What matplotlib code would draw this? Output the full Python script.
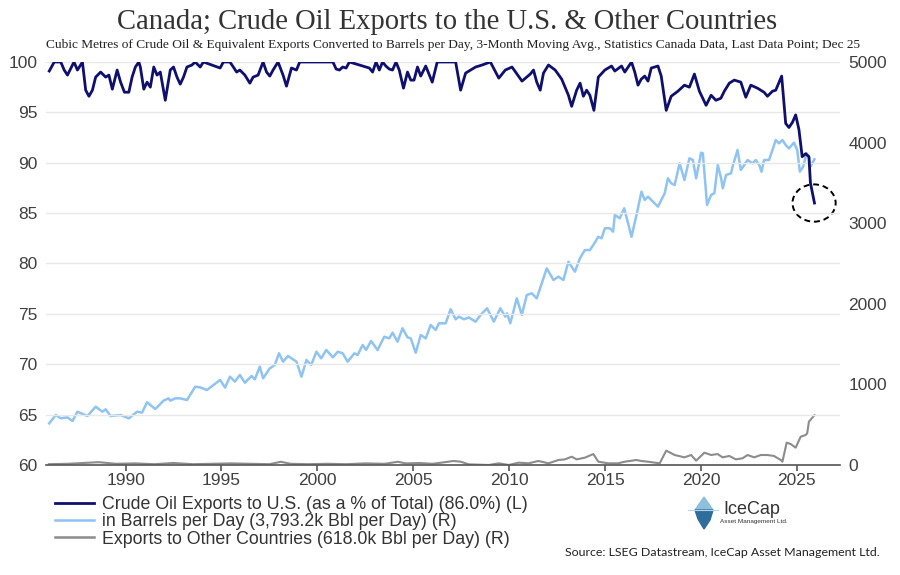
import numpy as np
import matplotlib.pyplot as plt
from matplotlib.patches import Ellipse, Polygon
from matplotlib.lines import Line2D

# --- data (decimal years) ---
us_share_years = [
    1986.02, 1986.28, 1986.62, 1986.80, 1986.97, 1987.31, 1987.49, 1987.75, 1987.92, 1988.09,
    1988.27, 1988.44, 1988.70, 1988.96, 1989.13, 1989.31, 1989.56, 1989.74, 1989.94, 1990.17,
    1990.34, 1990.51, 1990.69, 1990.77, 1990.95, 1991.12, 1991.29, 1991.47, 1991.64, 1991.81,
    1992.07, 1992.33, 1992.50, 1992.68, 1992.85, 1993.02, 1993.20, 1993.46, 1993.63, 1993.89,
    1994.06, 1994.93, 1995.10, 1995.44, 1995.62, 1995.79, 1995.96, 1996.22, 1996.48, 1996.65,
    1996.91, 1997.17, 1997.35, 1997.52, 1997.69, 1997.95, 1998.21, 1998.39, 1998.65, 1998.91,
    1999.08, 2000.81, 2000.98, 2001.15, 2001.32, 2001.50, 2001.67, 2002.71, 2002.88, 2003.06,
    2003.23, 2003.40, 2003.57, 2003.75, 2003.92, 2004.10, 2004.27, 2004.49, 2004.70, 2004.87,
    2005.04, 2005.22, 2005.39, 2005.65, 2005.82, 2005.99, 2006.25, 2006.86, 2007.21, 2007.47,
    2007.73, 2008.25, 2008.59, 2009.02, 2009.46, 2009.80, 2010.15, 2010.67, 2011.10, 2011.27,
    2011.44, 2011.62, 2011.79, 2012.05, 2012.40, 2012.74, 2013.09, 2013.26, 2013.52, 2013.70,
    2013.87, 2014.04, 2014.21, 2014.42, 2014.65, 2014.99, 2015.34, 2015.51, 2015.86, 2016.03,
    2016.38, 2016.55, 2016.72, 2016.89, 2017.07, 2017.24, 2017.41, 2017.76, 2017.93, 2018.19,
    2018.45, 2018.80, 2019.14, 2019.40, 2019.66, 2019.92, 2020.27, 2020.53, 2020.78, 2021.04,
    2021.22, 2021.48, 2021.74, 2022.08, 2022.34, 2022.60, 2022.95, 2023.29, 2023.47, 2023.73,
    2023.90, 2024.21, 2024.42, 2024.59, 2024.77, 2024.94, 2025.11, 2025.28, 2025.46, 2025.63,
    2025.71, 2025.92,
]
us_share_pct = [
    99.1, 100.0, 100.0, 99.2, 98.7, 100.0, 99.2, 100.0, 97.2, 96.6,
    97.2, 98.5, 99.0, 98.5, 98.7, 97.3, 99.2, 98.0, 97.0, 97.0,
    98.5, 99.5, 100.0, 99.5, 97.3, 98.0, 97.5, 99.5, 98.7, 99.0,
    96.2, 99.2, 99.5, 98.5, 97.8, 98.5, 99.5, 99.7, 100.0, 99.5,
    100.0, 99.4, 100.0, 100.0, 99.5, 99.0, 99.2, 98.7, 97.9, 98.5,
    98.7, 100.0, 99.0, 98.6, 99.2, 100.0, 98.7, 97.6, 99.4, 99.2,
    100.0, 100.0, 99.3, 99.2, 99.5, 99.4, 100.0, 99.4, 99.0, 100.0,
    99.2, 100.0, 99.6, 99.3, 99.2, 100.0, 99.2, 97.4, 99.0, 98.2,
    98.2, 99.5, 98.6, 99.6, 98.8, 98.0, 100.0, 100.0, 100.0, 97.2,
    98.9, 99.5, 99.7, 100.0, 98.4, 99.2, 99.5, 98.1, 98.8, 99.2,
    98.0, 97.2, 98.9, 99.7, 99.2, 98.3, 96.7, 95.6, 97.2, 97.9,
    96.6, 97.2, 96.7, 95.2, 98.5, 99.2, 99.6, 99.1, 99.6, 99.0,
    100.0, 99.0, 97.7, 98.3, 98.6, 98.1, 99.4, 99.6, 98.6, 95.2,
    96.6, 97.1, 97.7, 97.5, 98.8, 97.1, 95.7, 96.7, 96.2, 96.4,
    97.1, 97.9, 98.2, 98.0, 96.5, 97.7, 97.4, 97.0, 96.6, 97.1,
    97.2, 98.6, 93.9, 93.5, 94.0, 94.75, 93.3, 90.6, 90.9, 90.6,
    88.0, 86.0,
]

us_bpd_years = [
    1986.02, 1986.36, 1986.62, 1986.97, 1987.23, 1987.49, 1988.01, 1988.44, 1988.79, 1988.96,
    1989.22, 1989.74, 1990.17, 1990.60, 1990.86, 1991.12, 1991.55, 1991.98, 1992.24, 1992.33,
    1992.59, 1992.85, 1993.20, 1993.63, 1993.89, 1994.24, 1994.58, 1994.93, 1995.19, 1995.44,
    1995.70, 1995.96, 1996.22, 1996.57, 1996.74, 1997.00, 1997.17, 1997.52, 1997.78, 1998.00,
    1998.21, 1998.47, 1998.91, 1999.17, 1999.43, 1999.68, 1999.95, 2000.20, 2000.46, 2000.81,
    2001.07, 2001.32, 2001.58, 2001.93, 2002.10, 2002.36, 2002.54, 2002.80, 2003.14, 2003.49,
    2003.75, 2003.92, 2004.18, 2004.44, 2004.70, 2004.87, 2005.13, 2005.39, 2005.65, 2005.91,
    2006.17, 2006.34, 2006.69, 2006.95, 2007.21, 2007.38, 2007.64, 2007.90, 2008.25, 2008.51,
    2008.85, 2009.20, 2009.54, 2009.80, 2009.89, 2010.06, 2010.40, 2010.66, 2010.92, 2011.18,
    2011.44, 2011.70, 2011.96, 2012.31, 2012.57, 2012.83, 2013.09, 2013.43, 2013.69, 2013.95,
    2014.21, 2014.39, 2014.65, 2014.82, 2014.99, 2015.25, 2015.42, 2015.51, 2015.77, 2016.00,
    2016.20, 2016.38, 2016.64, 2016.90, 2017.07, 2017.24, 2017.50, 2017.76, 2018.11, 2018.28,
    2018.45, 2018.63, 2018.89, 2019.14, 2019.40, 2019.58, 2019.75, 2020.01, 2020.10, 2020.32,
    2020.53, 2020.70, 2020.88, 2021.05, 2021.14, 2021.31, 2021.57, 2021.65, 2021.91, 2022.08,
    2022.26, 2022.43, 2022.69, 2022.86, 2023.04, 2023.16, 2023.29, 2023.55, 2023.73, 2023.90,
    2024.07, 2024.25, 2024.42, 2024.59, 2024.85, 2025.02, 2025.16, 2025.33, 2025.51, 2025.63,
    2025.71, 2025.92,
]
us_bpd = [
    517, 620, 580, 591, 546, 661, 608, 723, 661, 691,
    608, 620, 579, 661, 650, 778, 695, 798, 827, 798,
    827, 827, 806, 971, 963, 930, 992, 1055, 960, 1096,
    1034, 1117, 1021, 1104, 1063, 1220, 1075, 1199, 1241, 1386,
    1282, 1352, 1282, 1096, 1303, 1241, 1406, 1323, 1427, 1336,
    1406, 1386, 1282, 1386, 1365, 1489, 1427, 1538, 1427, 1592,
    1571, 1642, 1530, 1696, 1584, 1571, 1393, 1613, 1571, 1737,
    1675, 1758, 1758, 1932, 1808, 1840, 1808, 1830, 1778, 1861,
    1944, 1778, 1944, 1840, 1882, 1758, 2068, 1861, 2109, 2130,
    2068, 2254, 2440, 2295, 2337, 2295, 2522, 2398, 2564, 2667,
    2667, 2729, 2832, 2812, 2937, 2937, 2895, 3102, 3061, 3185,
    2999, 2832, 3102, 3391, 3288, 3329, 3267, 3205, 3371, 3557,
    3495, 3474, 3743, 3536, 3805, 3784, 3557, 3875, 3867, 3226,
    3350, 3371, 3722, 3557, 3433, 3598, 3619, 3701, 3908, 3660,
    3722, 3784, 3743, 3784, 3722, 3639, 3784, 3784, 3908, 4032,
    3990, 4032, 3970, 3928, 3999, 3908, 3639, 3701, 3867, 3826,
    3701, 3793,
]

other_years = [
    1986.0, 1987.0, 1988.6, 1989.5, 1990.5, 1991.5, 1992.5, 1993.5, 1994.5, 1995.5,
    1996.5, 1997.5, 1998.1, 1998.6, 1999.5, 2000.5, 2001.5, 2002.5, 2003.5, 2004.2,
    2004.6, 2005.3, 2006.0, 2006.5, 2007.1, 2007.47, 2007.90, 2008.94, 2009.46, 2009.98,
    2010.49, 2011.01, 2011.53, 2012.05, 2012.57, 2012.91, 2013.26, 2013.52, 2013.95, 2014.39,
    2014.65, 2015.16, 2015.68, 2016.03, 2016.63, 2016.89, 2017.24, 2017.59, 2017.85, 2018.19,
    2018.63, 2019.14, 2019.49, 2019.75, 2020.18, 2020.53, 2020.87, 2021.13, 2021.48, 2021.82,
    2022.17, 2022.43, 2022.78, 2023.12, 2023.47, 2023.81, 2024.16, 2024.25, 2024.47, 2024.68,
    2024.94, 2025.20, 2025.46, 2025.54, 2025.63, 2025.92,
]
other_bpd = [
    10, 15, 35, 15, 20, 10, 25, 10, 15, 20,
    15, 10, 40, 15, 10, 15, 10, 20, 15, 40,
    20, 25, 15, 30, 50, 41, 8, 0, 21, 0,
    29, 21, 50, 21, 62, 70, 103, 70, 91, 136,
    41, 21, 21, 41, 62, 50, 41, 29, 21, 178,
    124, 95, 124, 54, 153, 124, 136, 95, 112, 70,
    83, 124, 95, 124, 124, 112, 62, 41, 277, 260,
    215, 351, 372, 393, 537, 618,
]

legend_labels = [
    "Crude Oil Exports to U.S. (as a % of Total) (86.0%) (L)",
    "in Barrels per Day (3,793.2k Bbl per Day) (R)",
    "Exports to Other Countries (618.0k Bbl per Day) (R)",
]
year_ticks = [1990, 1995, 2000, 2005, 2010, 2015, 2020, 2025]

NAVY = "#0f0f6e"
LIGHT = "#8fc3f2"
GREY = "#8c8c8c"
TXT = "#404040"

plt.rcParams['font.family'] = ['Liberation Sans', 'DejaVu Sans']

fig = plt.figure(figsize=(9, 5.75), dpi=100)
ax = fig.add_axes([0.0511, 0.1913, 0.8822, 0.7009])
ax2 = ax.twinx()

ax2.plot(us_bpd_years, us_bpd, color=LIGHT, lw=1.8)
ax2.plot(other_years, other_bpd, color=GREY, lw=1.5)
ax.plot(us_share_years, us_share_pct, color=NAVY, lw=2.0)

# navy line on top of the right-axis series
ax.set_zorder(ax2.get_zorder() + 1)
ax.patch.set_visible(False)

ax.set_xlim(1985.85, 2027.25)
ax.set_ylim(60, 100)
ax2.set_ylim(0, 5000)
ax.set_yticks(np.arange(60, 101, 5))
ax2.set_yticks(np.arange(0, 5001, 1000))
ax.set_xticks(year_ticks)
ax.grid(axis='y', color='#e8e8e8', lw=1.0)

for a in (ax, ax2):
    for s in a.spines.values():
        s.set_visible(False)
ax.spines['bottom'].set_visible(True)
ax.spines['bottom'].set_color('#555555')
ax.spines['bottom'].set_linewidth(1.2)

ax.tick_params(axis='y', length=0, labelsize=12.5, labelcolor=TXT, pad=6)
ax2.tick_params(axis='y', length=0, labelsize=12.5, labelcolor=TXT, pad=6)
ax.tick_params(axis='x', length=4, width=1.2, color='#555555', labelsize=12.5,
               labelcolor=TXT, pad=2)

# dashed circle around the last data point
ax.add_patch(Ellipse((2025.9, 86.0), width=2.25, height=3.7, fill=False,
                     ls=(0, (3, 2)), lw=1.4, color='black', clip_on=False))

# titles
fig.text(0.497, 0.962, "Canada; Crude Oil Exports to the U.S. & Other Countries",
         ha='center', va='center', fontsize=20.6, color='#333333',
         family='Liberation Serif')
fig.text(0.503, 0.922,
         "Cubic Metres of Crude Oil & Equivalent Exports Converted to Barrels per Day, "
         "3-Month Moving Avg., Statistics Canada Data, Last Data Point; Dec 25",
         ha='center', va='center', fontsize=9.65, color='#222222',
         family='Liberation Serif')

handles = [Line2D([], [], color=NAVY, lw=2.0),
           Line2D([], [], color=LIGHT, lw=1.8),
           Line2D([], [], color=GREY, lw=1.8)]
fig.legend(handles, legend_labels, loc='upper left',
           bbox_to_anchor=(0.0615, 1 - 496 / 575), bbox_transform=fig.transFigure,
           frameon=False, fontsize=12.8, handlelength=2.2, handletextpad=0.4,
           labelspacing=0.02, borderaxespad=0, borderpad=0, labelcolor='#333333')

fig.text(0.977, 1 - 552 / 575, "Source: LSEG Datastream, IceCap Asset Management Ltd.",
         ha='right', va='center', fontsize=8.9, color='#222222', family='Lato')

# IceCap logo
def fpt(x, y):
    return (x / 900, 1 - y / 575)

fig.patches.append(Polygon([fpt(704, 497), fpt(695, 510), fpt(713, 510)], closed=True,
                           transform=fig.transFigure, color='#8ec0de'))
fig.patches.append(Polygon([fpt(695, 510), fpt(713, 510), fpt(710, 520), fpt(704, 529),
                            fpt(698, 519)], closed=True, transform=fig.transFigure,
                           color='#2f6e9c'))
fig.lines.append(Line2D([688 / 900, 718 / 900], [1 - 510 / 575] * 2,
                        transform=fig.transFigure, color='#b8d6ea', lw=0.8))
fig.text(723 / 900, 1 - 510 / 575, "IceCap", ha='left', va='center', fontsize=13,
         color='#333333', family='Liberation Sans')
fig.text(720 / 900, 1 - 522 / 575, "Asset Management Ltd.", ha='left', va='center',
         fontsize=4.6, color='#333333', family='Liberation Sans')

fig.savefig("out.png", dpi=100)
